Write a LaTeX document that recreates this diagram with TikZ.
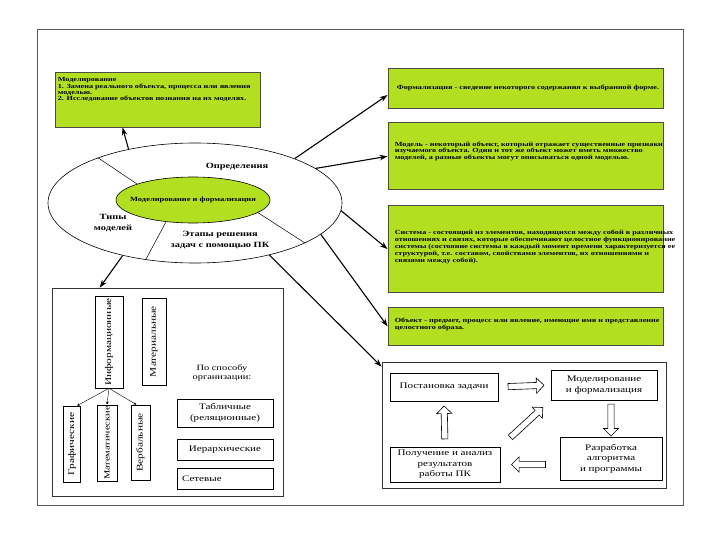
\documentclass[tikz,border=0pt]{standalone}
\usepackage{fontspec}
\setmainfont{Liberation Serif}[FakeStretch=1.3]
\usetikzlibrary{shapes.geometric, shapes.arrows, arrows.meta, positioning, calc}
\definecolor{slidegreen}{RGB}{178,224,32}

\begin{document}
\begin{tikzpicture}[x=1pt, y=-1pt,
      defbox/.style={rectangle, draw=black!70, line width=0.8pt, fill=slidegreen,
                     minimum width=275pt, inner sep=0pt},
      deftext/.style={anchor=north west, align=left, inner sep=0pt,
                      font=\fontsize{6.3}{6.8}\selectfont\bfseries},
      frm/.style={rectangle, draw=black!80, line width=0.6pt, inner sep=0pt},
      wbox/.style={rectangle, draw=black, line width=0.6pt, fill=white, inner sep=0pt,
                   align=center, font=\fontsize{8.5}{10.5}\selectfont},
      vbox/.style={wbox, rotate=90, font=\fontsize{8.7}{9}\selectfont},
      oval/.style={ellipse, draw=black, line width=0.6pt, inner sep=0pt},
      headtxt/.style={align=center, font=\fontsize{8}{10.5}\selectfont\bfseries},
      arr/.style={-{Stealth[length=8pt, width=5.5pt]}, line width=1.1pt},
      subarr/.style={-{Stealth[length=3pt, width=2.5pt]}, line width=0.4pt},
      blockarr/.style={single arrow, draw=black, line width=0.6pt, fill=white,
                       minimum height=36pt, inner sep=2.8pt, single arrow head extend=4.5pt,
                       sloped, allow upside down}
    ]
    \useasboundingbox (0,0) rectangle (720,540);
    \node[frm, draw=black!65, minimum width=646pt, minimum height=476pt] (page) at (360,267) {};

    % definitions
    \node[defbox, minimum width=205pt, minimum height=55pt] (modbox) at (157.5,99.5) {};
    \node[deftext, font=\fontsize{6.3}{6.1}\selectfont\bfseries] (modtxt)
      at ([shift={(3pt,-6pt)}]modbox.north west)
      {Моделирование\\1. Замена реального объекта, процесса или явления\\моделью.\\2. Исследование объектов познания на их моделях.};

    \node[defbox, minimum height=40pt] (formbox) at (525.5,88) {};
    \node[defbox, minimum height=67pt, below=14pt of formbox] (modelbox) {};
    \node[defbox, minimum height=87pt, below=15pt of modelbox] (sysbox) {};
    \node[defbox, minimum height=38pt, below=14pt of sysbox] (objbox) {};

    \node[deftext, anchor=west] (formtxt) at ([xshift=9pt]formbox.west)
      {Формализация - сведение некоторого содержания к выбранной форме.};
    \node[deftext] (modeltxt) at ([shift={(7pt,-19pt)}]modelbox.north west)
      {Модель - некоторый объект, который отражает существенные признаки\\
       изучаемого объекта. Один и тот же объект может иметь множество\\
       моделей, а разные объекты могут описываться одной моделью.};
    \node[deftext] (systxt) at ([shift={(7pt,-25pt)}]sysbox.north west)
      {Система - состоящий из элементов, находящихся между собой в различных\\
       отношениях и связях, которые обеспечивают целостное функционирование\\
       системы (состояние системы в каждый момент времени характеризуется ее\\
       структурой, т.е. составом, свойствами элементов, их отношениями и\\
       связями между собой).};
    \node[deftext] (objtxt) at ([shift={(7pt,-11pt)}]objbox.north west)
      {Объект - предмет, процесс или явление, имеющие имя и представление\\
       целостного образа.};

    % central ellipse
    \node[oval, minimum width=294pt, minimum height=120pt] (outer) at (195,203) {};
    \node[oval, fill=slidegreen, minimum width=154pt, minimum height=46pt] (inner) at (193,200) {};
    \node[font=\fontsize{6.5}{7}\selectfont\bfseries] (innertxt) at (inner) {Моделирование и формализация};
    \draw[line width=0.5pt] (inner.164) -- (outer.155.6);
    \draw[line width=0.5pt] (inner.-11) -- (outer.-20.9);
    \draw[line width=0.5pt] (inner.219.8) -- (outer.229.5);
    \node[headtxt] (deflbl) at (237,167) {Определения};
    \node[headtxt] (typelbl) at (113,223) {Типы\\моделей};
    \node[headtxt] (steplbl) at (220,240) {Этапы решения\\задач с помощью ПК};

    % types of models
    \node[frm, minimum width=231pt, minimum height=208pt] (leftframe) at (167.5,392) {};
    \node[vbox, minimum width=92pt, minimum height=28pt] (infobox) at (109,342) {Информационные};
    \node[vbox, minimum width=87pt, minimum height=24pt] (matbox) at (154,341.5) {Материальные};
    \node[vbox, minimum width=76pt, minimum height=17pt] (grbox) at (72,444) {Графические};
    \node[vbox, minimum width=76pt, minimum height=20pt, font=\fontsize{8}{9}\selectfont] (mathbox) at (107,443) {Математические};
    \node[vbox, minimum width=75pt, minimum height=19pt] (verbbox) at (140.5,442.5) {Вербальные};
    \draw[subarr] (infobox.west) -- ([xshift=5pt]grbox.east);
    \draw[subarr] (infobox.west) -- (mathbox.east);
    \draw[subarr] (infobox.west) -- ([xshift=-4pt]verbbox.east);
    \node[align=center, font=\fontsize{8}{9}\selectfont] (orglbl) at (222,373) {По способу\\организации:};
    \node[wbox, minimum width=96pt, minimum height=28pt] (tabbox) at (225,413) {Табличные\\(реляционные)};
    \node[wbox, minimum width=96pt, minimum height=21pt] (hierbox) at (225,449.5) {Иерархические};
    \node[wbox, minimum width=96pt, minimum height=21pt, text width=86pt, align=left] (netbox) at (225,478.5) {Сетевые};

    % stages
    \node[frm, minimum width=284pt, minimum height=126pt] (stagebox) at (524,425) {};
    \node[wbox, minimum width=108pt, minimum height=28pt] (taskbox) at (444,387) {Постановка задачи};
    \node[wbox, minimum width=106pt, minimum height=30pt] (formalbox) at (604,385) {Моделирование\\и формализация};
    \node[wbox, minimum width=102pt, minimum height=43pt] (algbox) at (611,458.5) {Разработка\\алгоритма\\и программы};
    \node[wbox, minimum width=110pt, minimum height=35pt] (resbox) at (445,464.5) {Получение и анализ\\результатов\\работы ПК};
    \path (taskbox.east) -- node[blockarr] {} (formalbox.west);
    \path (formalbox.south -| algbox.north) -- node[blockarr, minimum height=32pt] {} (algbox.north);
    \path (algbox.west |- resbox.east) -- node[blockarr, minimum height=34pt] {} (resbox.east);
    \path (resbox.north) -- node[blockarr, minimum height=33pt] {} (taskbox.south);
    \path (resbox.north east) -- node[blockarr, minimum height=44pt] {} (formalbox.south west);

    % arrows from the ellipse
    \draw[arr] (outer.141.6) -- ([xshift=-35pt]modbox.south);
    \draw[arr] (outer.24.7) -- ([yshift=-7pt]formbox.west);
    \draw[arr] (outer.16.3) -- (modelbox.west);
    \draw[arr] (outer.-3.6) -- (sysbox.west);
    \draw[arr] (outer.-14.6) -- (objbox.west);
    \draw[arr] (outer.-35.5) -- ([yshift=-5pt]stagebox.north west);
    \draw[arr] (outer.216) -- ([xshift=48pt]leftframe.north west);
\end{tikzpicture}
\end{document}
